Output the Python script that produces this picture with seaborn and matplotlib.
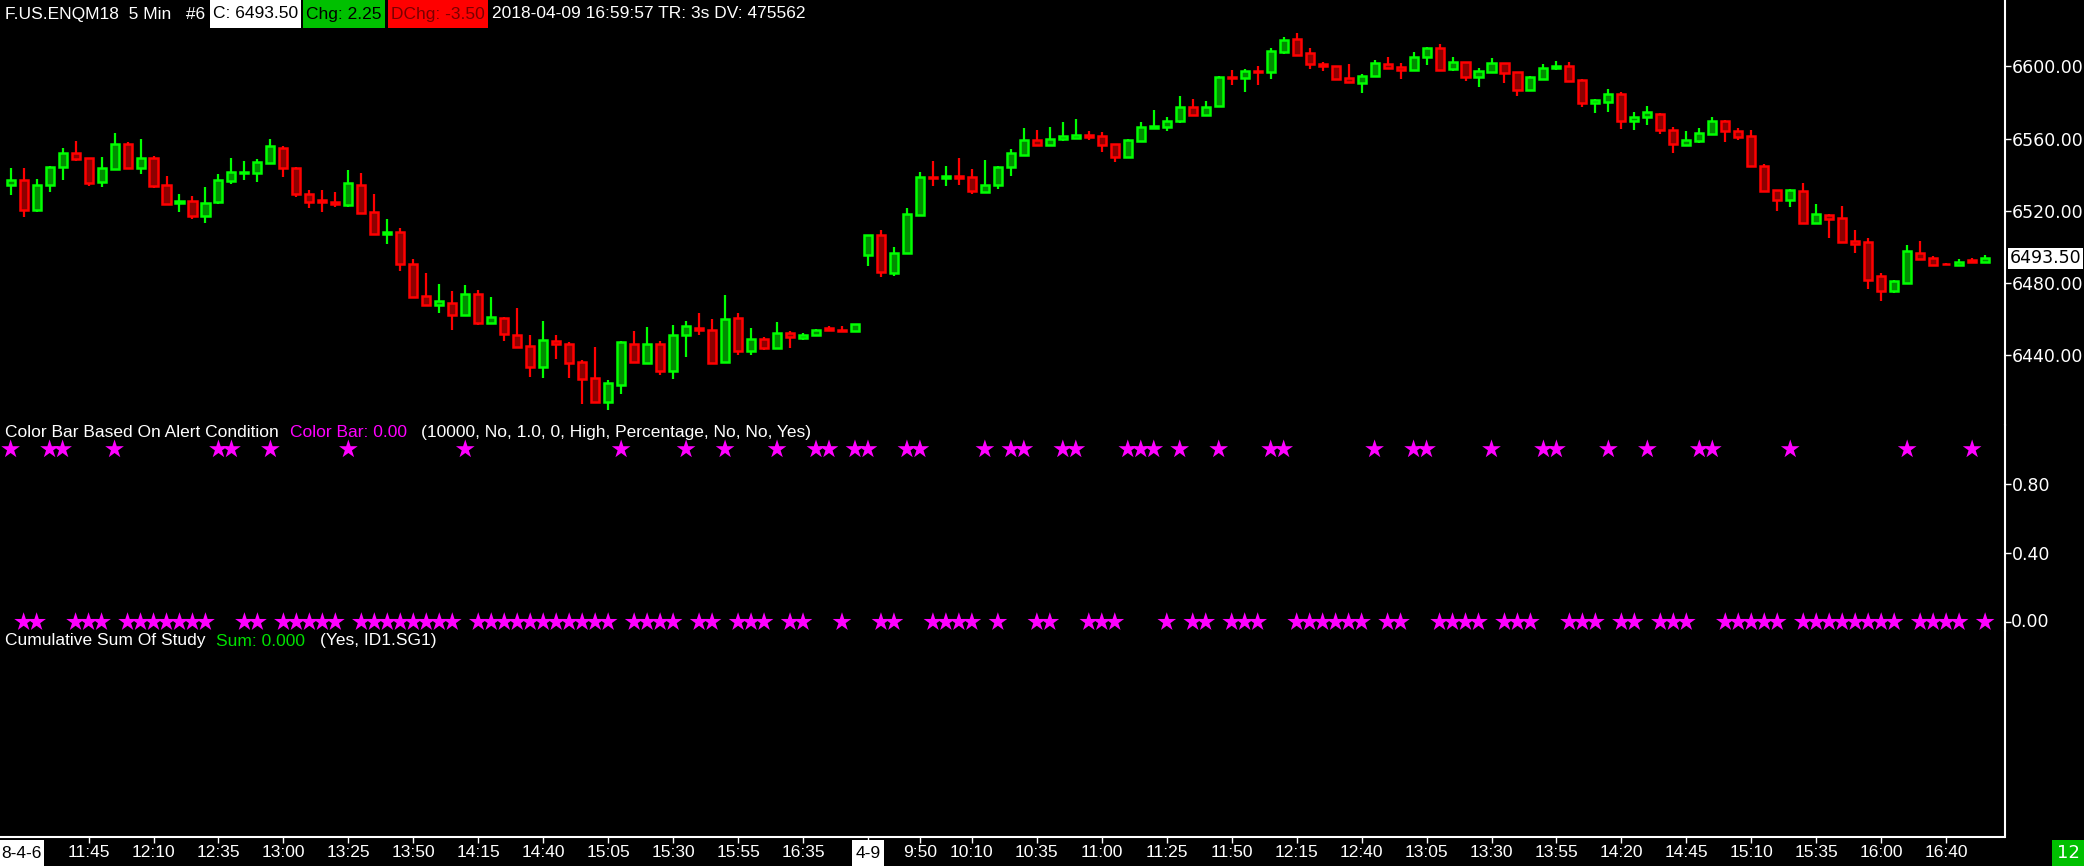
import matplotlib
matplotlib.use("Agg")
import numpy as np
import pandas as pd
import matplotlib.pyplot as plt
import seaborn as sns
from matplotlib.patches import Rectangle
from matplotlib.lines import Line2D
from matplotlib.transforms import Bbox, blended_transform_factory

# ---- data (5 min bars, F.US.ENQM18) ----
opens = [6534.5, 6536.75, 6520.25, 6534.0, 6544.0, 6552.25, 6549.0, 6535.75, 6543.25, 6556.75,
         6543.75, 6549.0, 6534.0, 6524.5, 6525.25, 6517.25, 6525.0, 6536.25, 6541.0, 6541.0,
         6546.5, 6555.0, 6543.5, 6529.5, 6526.0, 6524.75, 6523.25, 6534.5, 6519.0, 6507.25,
         6508.0, 6490.25, 6472.5, 6467.75, 6469.0, 6462.25, 6474.0, 6457.75, 6460.25, 6451.25,
         6444.75, 6433.5, 6447.5, 6446.25, 6435.75, 6427.0, 6414.0, 6423.5, 6446.25, 6435.5,
         6446.25, 6431.25, 6451.25, 6454.75, 6453.5, 6436.25, 6460.25, 6442.25, 6449.0, 6444.0,
         6452.0, 6449.5, 6451.25, 6454.75, 6453.75, 6453.0,
         6495.5, 6506.25, 6485.5, 6496.75, 6517.75, 6538.75, 6538.25, 6539.5, 6538.5, 6530.5,
         6534.5, 6544.5, 6551.0, 6559.0, 6556.5, 6559.5, 6560.5, 6562.25, 6561.25, 6556.75,
         6550.0, 6558.75, 6566.0, 6566.5, 6569.5, 6577.25, 6573.25, 6578.25, 6594.25, 6593.75,
         6597.5, 6597.0, 6608.25, 6615.0, 6607.25, 6601.5, 6600.0, 6593.5, 6591.0, 6595.0,
         6601.25, 6599.5, 6598.25, 6605.0, 6610.0, 6598.75, 6602.75, 6594.25, 6597.0, 6601.75,
         6596.75, 6587.0, 6593.25, 6599.25, 6600.0, 6592.25, 6579.5, 6580.5, 6584.5, 6570.0,
         6572.25, 6573.5, 6564.5, 6556.5, 6558.75, 6562.75, 6569.5, 6564.0, 6561.25, 6545.0,
         6531.25, 6526.0, 6530.75, 6513.25, 6517.5, 6515.75, 6503.0, 6502.5, 6483.5, 6475.5,
         6480.0, 6496.25, 6493.5, 6490.5, 6490.0, 6492.5, 6491.75]
highs = [6543.5, 6543.5, 6537.5, 6545.0, 6554.5, 6558.75, 6549.0, 6549.75, 6563.0, 6558.0,
         6559.75, 6550.25, 6539.25, 6529.25, 6528.0, 6533.0, 6540.25, 6549.25, 6547.5, 6548.75,
         6559.75, 6555.75, 6544.0, 6531.5, 6531.5, 6530.25, 6542.5, 6540.75, 6529.5, 6515.25,
         6510.25, 6493.25, 6485.5, 6479.25, 6475.5, 6478.5, 6476.25, 6472.0, 6460.75, 6465.75,
         6451.0, 6458.75, 6451.0, 6447.0, 6437.0, 6444.25, 6426.25, 6447.5, 6453.25, 6455.25,
         6447.75, 6456.5, 6458.75, 6463.25, 6459.75, 6473.25, 6463.25, 6454.75, 6449.75, 6458.25,
         6453.0, 6452.0, 6454.25, 6456.0, 6456.0, 6457.0,
         6506.25, 6509.25, 6499.75, 6521.5, 6541.25, 6547.5, 6544.75, 6549.25, 6543.0, 6548.0,
         6545.0, 6554.0, 6565.75, 6564.75, 6566.5, 6569.25, 6570.75, 6564.25, 6563.5, 6556.75,
         6559.75, 6569.25, 6575.75, 6572.25, 6583.5, 6582.0, 6580.75, 6594.75, 6598.0, 6598.5,
         6600.25, 6610.5, 6616.25, 6618.5, 6610.25, 6602.75, 6600.0, 6601.25, 6595.75, 6603.5,
         6605.25, 6602.0, 6608.0, 6610.75, 6612.5, 6605.25, 6602.75, 6599.25, 6604.75, 6601.75,
         6596.75, 6595.0, 6601.25, 6603.0, 6602.5, 6593.0, 6582.0, 6587.5, 6585.75, 6574.75,
         6578.0, 6574.0, 6566.5, 6564.25, 6566.0, 6572.0, 6570.25, 6566.0, 6564.75, 6545.75,
         6531.5, 6532.25, 6535.25, 6523.75, 6518.0, 6522.5, 6509.25, 6504.75, 6485.25, 6481.5,
         6500.75, 6503.25, 6494.75, 6490.75, 6493.0, 6493.75, 6495.25]
lows = [6528.75, 6516.75, 6519.5, 6530.5, 6537.0, 6547.5, 6533.75, 6533.25, 6543.0, 6543.0,
        6540.25, 6532.75, 6523.75, 6519.25, 6515.25, 6513.0, 6523.75, 6534.75, 6537.0, 6536.0,
        6545.75, 6538.75, 6527.5, 6521.5, 6519.25, 6522.25, 6522.25, 6518.5, 6506.5, 6501.5,
        6486.5, 6472.25, 6467.25, 6463.25, 6453.75, 6462.25, 6456.5, 6457.75, 6447.75, 6444.0,
        6427.75, 6427.25, 6437.75, 6427.25, 6412.75, 6413.25, 6409.25, 6418.25, 6436.25, 6435.25,
        6428.75, 6426.5, 6439.0, 6451.0, 6435.5, 6436.25, 6439.75, 6439.75, 6442.75, 6443.25,
        6443.75, 6448.5, 6451.25, 6454.0, 6452.75, 6453.0,
        6489.25, 6483.25, 6484.0, 6496.75, 6517.75, 6533.75, 6533.75, 6534.25, 6529.5, 6530.5,
        6532.25, 6539.5, 6551.0, 6555.75, 6555.75, 6558.75, 6560.25, 6559.25, 6552.5, 6547.0,
        6550.0, 6558.75, 6566.0, 6564.25, 6568.75, 6573.25, 6573.25, 6578.25, 6589.75, 6586.0,
        6589.75, 6593.0, 6607.0, 6606.5, 6598.5, 6597.75, 6593.0, 6591.25, 6585.5, 6595.0,
        6598.5, 6593.0, 6598.25, 6600.75, 6598.25, 6597.75, 6592.0, 6588.5, 6596.5, 6590.75,
        6583.5, 6587.0, 6593.25, 6598.0, 6592.0, 6577.5, 6574.25, 6574.75, 6565.25, 6564.75,
        6567.5, 6562.75, 6552.25, 6556.0, 6557.5, 6562.75, 6558.0, 6559.25, 6545.0, 6531.0,
        6519.75, 6522.0, 6512.75, 6512.75, 6504.75, 6502.75, 6496.75, 6476.5, 6469.75, 6474.25,
        6480.0, 6493.25, 6490.0, 6490.0, 6490.0, 6491.25, 6491.25]
closes = [6537.0, 6520.25, 6534.5, 6544.0, 6552.25, 6548.75, 6535.5, 6543.5, 6557.25, 6543.75,
          6549.0, 6533.75, 6523.75, 6525.25, 6517.25, 6524.5, 6536.75, 6541.25, 6541.5, 6547.25,
          6555.75, 6543.75, 6529.5, 6525.0, 6525.0, 6523.75, 6535.25, 6518.75, 6507.25, 6508.0,
          6490.5, 6472.25, 6467.75, 6469.75, 6462.25, 6474.0, 6457.75, 6460.75, 6451.75, 6444.5,
          6433.5, 6448.0, 6446.25, 6435.5, 6426.75, 6414.0, 6424.25, 6447.0, 6436.25, 6445.75,
          6431.25, 6451.25, 6455.75, 6454.0, 6435.5, 6459.75, 6442.25, 6449.0, 6444.0, 6452.0,
          6449.75, 6451.25, 6453.5, 6454.0, 6453.25, 6457.0,
          6506.25, 6486.0, 6496.75, 6518.0, 6538.5, 6538.25, 6539.5, 6538.25, 6531.0, 6534.5,
          6544.5, 6551.75, 6559.0, 6556.5, 6559.5, 6561.25, 6561.75, 6561.0, 6556.5, 6550.0,
          6559.0, 6566.25, 6566.75, 6569.5, 6577.25, 6573.25, 6577.75, 6594.0, 6593.75, 6597.25,
          6597.0, 6608.5, 6614.5, 6606.5, 6601.5, 6600.0, 6593.0, 6591.5, 6595.0, 6601.75,
          6599.25, 6598.25, 6605.0, 6610.5, 6598.25, 6602.75, 6594.25, 6597.25, 6601.75, 6596.25,
          6587.0, 6594.0, 6599.0, 6600.0, 6592.0, 6579.5, 6581.25, 6584.5, 6570.0, 6572.25,
          6574.5, 6564.5, 6556.75, 6559.0, 6563.0, 6570.0, 6564.25, 6561.0, 6545.0, 6531.0,
          6526.0, 6531.25, 6513.25, 6518.0, 6515.5, 6502.75, 6501.75, 6481.75, 6475.5, 6480.75,
          6497.5, 6493.25, 6490.0, 6490.25, 6491.25, 6491.25, 6493.5]

# bars where the alert condition was true (Color Bar = 1), all others are 0
alert_bars = [0, 3, 4, 8, 16, 17, 20, 26, 35, 47, 52, 55, 59, 62, 63, 65, 66, 69, 70, 75,
              77, 78, 81, 82, 86, 87, 88, 90, 93, 97, 98, 105, 108, 109, 114, 118, 119, 123,
              126, 130, 131, 137, 146, 151]

tick_bars = [6, 11, 16, 21, 26, 31, 36, 41, 46, 51, 56, 61, 66, 70, 74, 79, 84, 89, 94, 99,
             104, 109, 114, 119, 124, 129, 134, 139, 144, 149]
tick_labels = ["11:45", "12:10", "12:35", "13:00", "13:25", "13:50", "14:15", "14:40", "15:05",
               "15:30", "15:55", "16:35", "4-9", "9:50", "10:10", "10:35", "11:00", "11:25",
               "11:50", "12:15", "12:40", "13:05", "13:30", "13:55", "14:20", "14:45", "15:10",
               "15:35", "16:00", "16:40"]
date_labels = ["8-4-6", "4-9"]
price_ticks = [6440, 6480, 6520, 6560, 6600]
study_ticks = [0.4, 0.8]
last_price = 6493.50

bars = pd.DataFrame({"o": opens, "h": highs, "l": lows, "c": closes})
bars["bar"] = np.arange(len(bars))
bars["up"] = bars["c"] >= bars["o"]

W, H = 2084, 866
NARROW = ["Liberation Sans", "DejaVu Sans"]
FS = 12.5
UP_EDGE, UP_FILL = "#00FF00", "#008C00"
DN_EDGE, DN_FILL = "#FF0000", "#8C0000"
MAGENTA = "#FF00FF"

sns.set_theme(style="dark", rc={"axes.facecolor": "black", "figure.facecolor": "black",
                                "axes.grid": False, "text.color": "white"})
plt.rcParams["font.family"] = NARROW

fig = plt.figure(figsize=(W / 100, H / 100), dpi=100)
renderer = fig.canvas.get_renderer()


def px_rect(top, bottom, left=0, right=2005):
    return [left / W, 1 - bottom / H, (right - left) / W, (bottom - top) / H]


def boxed(x_px, y_px, s, fg, bg, top, bottom, padx=3, ha="left", size=FS):
    # text with a flat box spanning rows top..bottom (pixels from the top)
    t = fig.text(x_px / W, 1 - y_px / H, s, color=fg, fontsize=size, ha=ha, va="center",
                 family=NARROW, zorder=5)
    ext = t.get_window_extent(renderer=renderer)
    fig.add_artist(Rectangle(((ext.x0 - padx) / W, 1 - bottom / H), (ext.width + 2 * padx) / W,
                             (bottom - top) / H, transform=fig.transFigure, facecolor=bg,
                             edgecolor="none", zorder=4))
    return ext


ax1 = fig.add_axes(px_rect(0, 425))
ax2 = fig.add_axes(px_rect(425, 631), sharex=ax1)
ax3 = fig.add_axes(px_rect(631, 837), sharex=ax1)

for ax in (ax1, ax2, ax3):
    ax.set_facecolor("black")
    for side in ("top", "left", "bottom"):
        ax.spines[side].set_visible(False)
    ax.spines["right"].set_visible(True)
    ax.spines["right"].set_color("white")
    ax.spines["right"].set_linewidth(1.5)
    ax.yaxis.tick_right()
    ax.tick_params(axis="y", colors="white", right=True, length=4, width=1, labelsize=12.5,
                   pad=1, labelfontfamily="DejaVu Sans")
fig.add_artist(Line2D([0, 2005 / W], [1 - 837 / H, 1 - 837 / H], transform=fig.transFigure,
                      color="white", linewidth=1.5))

# ---- candles ----
edge = np.where(bars["up"], UP_EDGE, DN_EDGE)
fill = np.where(bars["up"], UP_FILL, DN_FILL)
ax1.vlines(bars["bar"], bars["l"], bars["h"], colors=edge, linewidth=1.6, zorder=2)
ax1.bar(bars["bar"], bars["c"] - bars["o"], bottom=bars["o"], width=0.62, color=fill,
        edgecolor=edge, linewidth=1.8, zorder=3)
ax1.set_xlim(-0.818, 153.53)
ax1.set_ylim(6401.06, 6636.9)
ax1.set_yticks(price_ticks)
ax1.set_yticklabels([f"{p:.2f}" for p in price_ticks])
ax1.tick_params(axis="x", bottom=False, labelbottom=False)
ax1.annotate(f"{last_price:.2f}", xy=(1, last_price),
             xycoords=blended_transform_factory(ax1.transAxes, ax1.transData),
             xytext=(5, 0), textcoords="offset pixels", va="center", ha="left",
             fontsize=12.5, family="DejaVu Sans", color="black",
             bbox=dict(boxstyle="square,pad=0.1", fc="white", ec="none"))

# ---- color bar study (stars) ----
stars = pd.DataFrame({"bar": bars["bar"]})
stars["value"] = stars["bar"].isin(alert_bars).astype(float)
sns.scatterplot(data=stars, x="bar", y="value", marker="*", s=200, color=MAGENTA,
                edgecolor="none", linewidth=0, legend=False, ax=ax2, clip_on=False, zorder=3)
ax2.set_ylim(-0.0521, 1.1404)
ax2.set_yticks(study_ticks + [0.0])
ax2.set_yticklabels([f"{v:.2f}" for v in study_ticks] + [""])
ax2.tick_params(axis="x", bottom=False, labelbottom=False)
ax2.set_xlabel("")
ax2.set_ylabel("")
zero_lbl = ax2.text(1.0 + 6 / 2005, 0.0, "0.00",
                    transform=blended_transform_factory(ax2.transAxes, ax2.transData),
                    ha="left", va="center", fontsize=12.5, family="DejaVu Sans", color="white")
zero_lbl.set_clip_box(Bbox.from_extents(2000, H - 627, W, H - 425))
zero_lbl.set_clip_on(True)

# ---- cumulative sum panel (empty) + time axis ----
ax3.set_yticks([])
ax3.set_xticks(tick_bars)
ax3.set_xticklabels(["" if s in date_labels else s for s in tick_labels])
ax3.tick_params(axis="x", colors="white", bottom=True, direction="out", length=4, width=1,
                labelsize=FS, pad=2)
for lbl in ax3.get_xticklabels():
    lbl.set_family(NARROW)

for k, s in zip(tick_bars, tick_labels):
    if s in date_labels:
        xk = ax3.transData.transform((k, 0))[0]
        boxed(xk, 853, s, "black", "white", 840, 866, ha="center")
boxed(1, 853, date_labels[0], "black", "white", 840, 866)


def text_run(x_px, y_px, parts, size=FS):
    x = x_px
    for s, fg, bg, gap in parts:
        if bg:
            ext = boxed(x + 3, y_px, s, fg, bg, 0, 28)
            x += ext.width + 6 + gap
        else:
            t = fig.text(x / W, 1 - y_px / H, s, color=fg, fontsize=size, ha="left",
                         va="center", family=NARROW)
            x += t.get_window_extent(renderer=renderer).width + gap


text_run(5, 14, [("F.US.ENQM18  5 Min   #6", "white", None, 5),
                 ("C: 6493.50", "black", "white", 2),
                 ("Chg: 2.25", "black", "#00C000", 3),
                 ("DChg: -3.50", "#7A0000", "#FF0000", 5),
                 ("2018-04-09 16:59:57 TR: 3s DV: 475562", "white", None, 0)])
text_run(5, 432, [("Color Bar Based On Alert Condition", "white", None, 11),
                  ("Color Bar: 0.00", MAGENTA, None, 14),
                  ("(10000, No, 1.0, 0, High, Percentage, No, No, Yes)", "white", None, 0)])
text_run(5, 641, [("Cumulative Sum Of Study", "white", None, 11),
                  ("Sum: 0.000", "#00E000", None, 14),
                  ("(Yes, ID1.SG1)", "white", None, 0)])

fig.add_artist(Rectangle((2052 / W, 0), 32 / W, 26 / H, transform=fig.transFigure,
                         facecolor="#00C000", edgecolor="none"))
fig.text(2068 / W, 13 / H, "12", color="white", fontsize=13, ha="center", va="center",
         family="DejaVu Sans")

fig.savefig("out.png", dpi=100, facecolor="black")
